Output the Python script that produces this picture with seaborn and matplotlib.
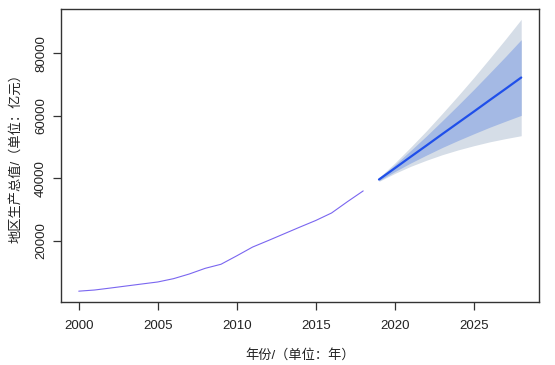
import numpy as np
import pandas as pd
import matplotlib
matplotlib.use("Agg")
import matplotlib.pyplot as plt
import seaborn as sns

# historical GDP
hist_years = list(range(2000, 2019))
hist_gdp = [3900, 4270, 4900, 5550, 6200, 6840, 7900, 9400, 11200, 12500,
            15200, 18000, 20100, 22250, 24400, 26500, 28900, 32500, 35950]

# forecast with 80% / 95% intervals
fc_years = list(range(2019, 2029))
fc_mean = [39600, 43200, 46850, 50450, 54100, 57700, 61300, 64950, 68550, 72200]
lo80 = [39210, 42120, 44860, 47390, 49820, 52070, 54210, 56290, 58220, 60100]
hi80 = [39990, 44280, 48840, 53510, 58380, 63330, 68390, 73610, 78880, 84300]
lo95 = [39000, 41540, 43800, 45750, 47520, 49050, 50400, 51630, 52660, 53600]
hi95 = [40200, 44860, 49900, 55150, 60680, 66350, 72200, 78270, 84440, 90800]

sns.set_theme(style="ticks")
plt.rcParams['font.family'] = ['Liberation Sans', 'Noto Sans CJK SC']
plt.rcParams['axes.unicode_minus'] = False

hist = pd.DataFrame({'year': hist_years, 'gdp': hist_gdp})
fc = pd.DataFrame({'year': fc_years, 'mean': fc_mean,
                   'lo80': lo80, 'hi80': hi80, 'lo95': lo95, 'hi95': hi95})

fig = plt.figure(figsize=(5.55, 3.65), dpi=100)
ax = fig.add_axes([0.110, 0.173, 0.861, 0.802])

ax.fill_between(fc['year'], fc['lo95'], fc['hi95'], color='#D5DDE7', lw=0)
ax.fill_between(fc['year'], fc['lo80'], fc['hi80'], color='#A4B9E4', lw=0)
sns.lineplot(data=hist, x='year', y='gdp', ax=ax, color='#7A66F0', lw=0.8)
sns.lineplot(data=fc, x='year', y='mean', ax=ax, color='#1F4FEA', lw=1.6)

ax.set_xlim(1998.88, 2029.12)
ax.set_ylim(484, 94066)
ax.set_xticks([2000, 2005, 2010, 2015, 2020, 2025])
ax.set_yticks([20000, 40000, 60000, 80000])
ax.set_yticklabels(['20000', '40000', '60000', '80000'], rotation=90, va='center')

for s in ax.spines.values():
    s.set_visible(True)
    s.set_color('#333333')
    s.set_linewidth(1.0)
ax.tick_params(axis='both', length=6, width=0.9, color='#333333',
               labelsize=9.5, labelcolor='#222222')
ax.tick_params(axis='x', pad=7)
ax.tick_params(axis='y', pad=4)

ax.set_xlabel('年份/（单位：年）', fontsize=9.5, color='#222222', labelpad=12)
ax.set_ylabel('地区生产总值/（单位：亿元）', fontsize=9.5, color='#222222', labelpad=9)

fig.savefig('out.png', dpi=100)
